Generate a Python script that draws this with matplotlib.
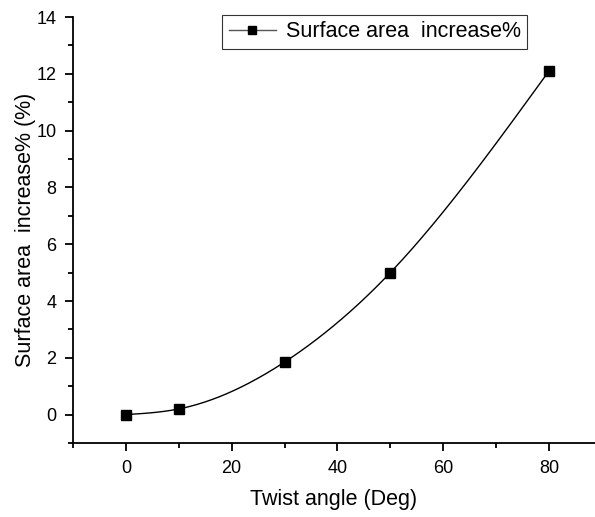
import numpy as np
import matplotlib
matplotlib.use("Agg")
import matplotlib.pyplot as plt
from matplotlib.ticker import MultipleLocator

plt.rcParams['font.family'] = ['Liberation Sans', 'DejaVu Sans']

twist_angle = [0, 10, 30, 50, 80]
area_increase = [0.0, 0.2, 1.85, 5.0, 12.1]


def natural_spline(x, y, n=400):
    x = np.asarray(x, float)
    y = np.asarray(y, float)
    k = len(x)
    h = np.diff(x)
    A = np.zeros((k, k))
    b = np.zeros(k)
    A[0, 0] = A[-1, -1] = 1.0
    for i in range(1, k - 1):
        A[i, i - 1] = h[i - 1]
        A[i, i] = 2 * (h[i - 1] + h[i])
        A[i, i + 1] = h[i]
        b[i] = 3 * ((y[i + 1] - y[i]) / h[i] - (y[i] - y[i - 1]) / h[i - 1])
    c = np.linalg.solve(A, b)
    xs = np.linspace(x[0], x[-1], n)
    ys = np.empty_like(xs)
    for j, xv in enumerate(xs):
        i = min(np.searchsorted(x, xv, side='right') - 1, k - 2)
        dx = xv - x[i]
        bb = (y[i + 1] - y[i]) / h[i] - h[i] * (2 * c[i] + c[i + 1]) / 3
        d = (c[i + 1] - c[i]) / (3 * h[i])
        ys[j] = y[i] + bb * dx + c[i] * dx ** 2 + d * dx ** 3
    return xs, ys


fig = plt.figure(figsize=(5.95, 5.17), dpi=100)
ax = fig.add_axes([0.1227, 0.1431, 0.8773, 0.8240])

sx, sy = natural_spline(twist_angle, area_increase)
ax.plot(sx, sy, color='black', lw=1.0, zorder=2)
ax.plot(twist_angle, area_increase, ls='none', marker='s', ms=7.2,
        color='black', zorder=3)

# legend proxy: line with square marker
ax.plot([], [], color='#555555', lw=1.0, marker='s', ms=5.5,
        markerfacecolor='black', markeredgecolor='black',
        label='Surface area  increase%')
leg = ax.legend(loc='upper left', bbox_to_anchor=(0.286, 1.005),
                fontsize=15.5, frameon=True, fancybox=False,
                edgecolor='black', handlelength=2.2, handletextpad=0.45,
                borderpad=0.3, borderaxespad=0)
leg.get_frame().set_linewidth(0.8)

ax.set_xlim(-10, 88.7)
ax.set_ylim(-1, 14)
ax.xaxis.set_major_locator(MultipleLocator(20))
ax.xaxis.set_minor_locator(MultipleLocator(10))
ax.yaxis.set_major_locator(MultipleLocator(2))
ax.yaxis.set_minor_locator(MultipleLocator(1))

for s in ('top', 'right'):
    ax.spines[s].set_visible(False)
for s in ('left', 'bottom'):
    ax.spines[s].set_linewidth(1.3)

ax.tick_params(which='major', direction='out', length=6, width=1.3,
               labelsize=13, pad=6)
ax.tick_params(which='minor', direction='out', length=3.5, width=1.3)

ax.set_xlabel('Twist angle (Deg)', fontsize=15.5, labelpad=9)
ax.set_ylabel('Surface area  increase% (%)', fontsize=15.5, labelpad=0)

fig.savefig('out.png', dpi=100)
